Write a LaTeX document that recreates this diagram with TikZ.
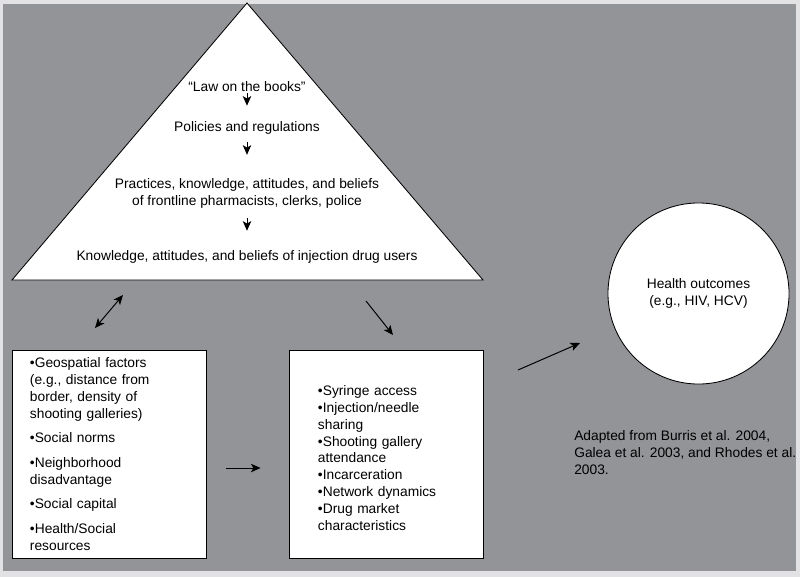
\documentclass[tikz,border=0pt]{standalone}
\usepackage{fontspec}
\setmainfont{Liberation Sans}
\usetikzlibrary{arrows.meta,positioning}
\definecolor{panelgray}{RGB}{147,148,152}
\definecolor{edgegray}{RGB}{226,226,228}

\begin{document}
\begin{tikzpicture}[x=0.025cm,y=-0.025cm,
  every node/.style={font=\fontsize{9.8}{12}\selectfont},
  block/.style={draw,fill=white,line width=0.6pt},
  txt/.style={inner sep=0pt},
  arr/.style={-{Stealth[length=2.4mm,width=2.1mm,inset=0.6mm]},line width=0.7pt},
  dblarr/.style={{Stealth[length=2.4mm,width=2.1mm,inset=0.6mm]}-{Stealth[length=2.4mm,width=2.1mm,inset=0.6mm]},line width=0.7pt}]
\fill[edgegray] (0,0) rectangle (800,577);
\fill[panelgray] (3,4) rectangle (796,571);
\useasboundingbox (0,0) rectangle (800,577);
% the law pyramid
\coordinate (apex) at (247,3);
\coordinate (baseL) at (12,280);
\coordinate (baseR) at (483,280);
\draw[block] (apex) -- (baseR) -- (baseL) -- cycle;
\node[txt,anchor=base] (law) at (247,92) {“Law on the books”};
\node[txt,anchor=base] (policy) at (247,132) {Policies and regulations};
\node[txt,anchor=base,align=center] (practice) at (247,205)
  {Practices, knowledge, attitudes, and beliefs\\of frontline pharmacists, clerks, police};
\node[txt,anchor=base] (knowledge) at (247,260) {Knowledge, attitudes, and beliefs of injection drug users};
\draw[arr,shorten <=0.7pt,shorten >=11.4pt] (law) -- (policy);
\draw[arr,shorten <=5pt,shorten >=16.4pt] (policy) -- (practice);
\draw[arr,shorten <=7.1pt,shorten >=13.5pt] (practice) -- (knowledge);
% environment and behaviour boxes
\node[block,minimum width=4.85cm,minimum height=5.2cm,inner xsep=0.45cm,
  text width=3.95cm,align=left] (factors) at (109,454)
  {\textbullet Geospatial factors\\(e.g., distance from\\border, density of\\shooting galleries)\\[5.5pt]
   \textbullet Social norms\\[5.5pt]
   \textbullet Neighborhood\\disadvantage\\[5.5pt]
   \textbullet Social capital\\[5.5pt]
   \textbullet Health/Social\\resources};
\node[block,minimum width=4.85cm,minimum height=5.2cm,inner xsep=0.725cm,
  text width=3.4cm,align=left] (behavior) at (386,454)
  {\rule{0pt}{12.8pt}\textbullet Syringe access\\\textbullet Injection/needle\\sharing\\\textbullet Shooting gallery\\attendance\\
   \textbullet Incarceration\\\textbullet Network dynamics\\\textbullet Drug market\\characteristics};
\node[block,circle,minimum size=4.525cm,inner sep=0pt,align=center] (health) at (698.5,293.5)
  {Health outcomes\\(e.g., HIV, HCV)};
\node[txt,anchor=base west,align=left] (source) at (574,474)
  {Adapted from Burris et al. 2004,\\Galea et al. 2003, and Rhodes et al.\\2003.};
% links
\coordinate (linkA) at (95,328);
\coordinate (linkB) at (123,295);
\draw[dblarr] (linkA) -- (linkB);
\coordinate (flowA) at (366,301);
\coordinate (flowB) at (393,335);
\draw[arr] (flowA) -- (flowB);
\draw[arr,shorten <=14.2pt,shorten >=19.9pt] ([yshift=-0.35cm]factors.east) -- ([yshift=-0.35cm]behavior.west);
\coordinate (outA) at (518,370);
\coordinate (outB) at (580,343);
\draw[arr] (outA) -- (outB);
\end{tikzpicture}
\end{document}
